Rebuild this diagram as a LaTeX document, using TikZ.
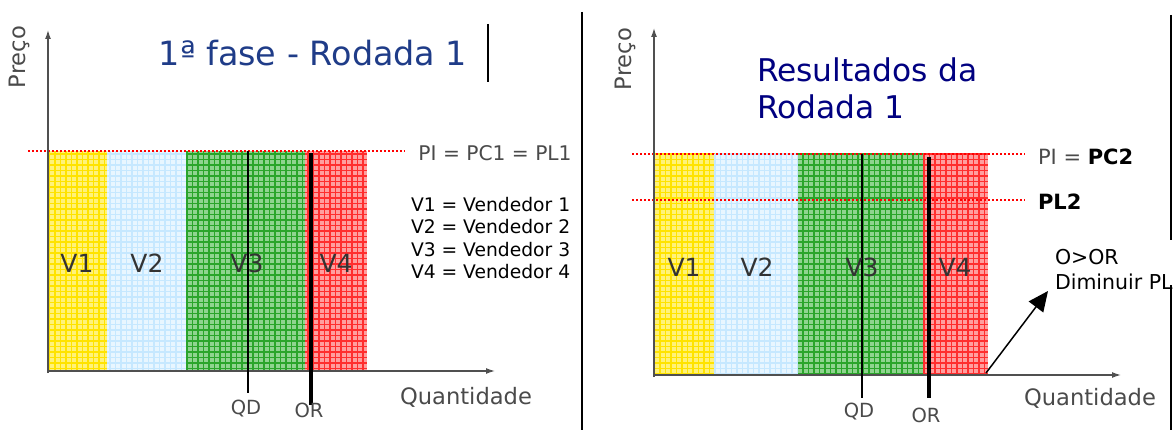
\documentclass[tikz,border=0pt]{standalone}
\usepackage{fontspec}
\setmainfont{DejaVu Sans}
\usepackage{tikz}
\usetikzlibrary{arrows.meta,positioning}
\usepackage{xcolor}
\definecolor{titleblue}{HTML}{1F3C88}
\definecolor{navy}{HTML}{000080}
\definecolor{axisgray}{HTML}{505050}
\definecolor{labgray}{HTML}{4A4A4A}
\definecolor{bargray}{HTML}{333333}
\definecolor{ylite}{HTML}{FFF27A}
\definecolor{ydark}{HTML}{FFE300}
\definecolor{blite}{HTML}{E8F6FF}
\definecolor{bdark}{HTML}{C6E8FF}
\definecolor{glite}{HTML}{8FD48F}
\definecolor{gdark}{HTML}{2AA52A}
\definecolor{rlite}{HTML}{FF9E9E}
\definecolor{rdark}{HTML}{FF2E2E}

\begin{document}
\begin{tikzpicture}[x=1pt,y=1pt,
 every node/.style={inner sep=0pt,outer sep=0pt},
 axisline/.style={-{Latex[length=9pt,width=6pt]},line width=1.3pt,draw=axisgray},
 priceline/.style={draw=red,line width=2pt,dash pattern=on 2pt off 2pt},
 qdline/.style={line width=2.4pt,draw=black},
 orline/.style={line width=4pt,draw=black},
 gridfill/.style={line width=1.6pt,step=5.5},
 rulebar/.style={line width=2.5pt,draw=black},
 glabel/.style={text=labgray,font=\fontsize{19.5}{20}\selectfont},
 axlabel/.style={text=labgray,font=\fontsize{22.6}{24}\selectfont},
 barlabel/.style={text=bargray,font=\fontsize{25}{25}\selectfont},
 legend/.style={anchor=west,font=\fontsize{18.7}{20}\selectfont},
 pointer/.style={-{Triangle[length=20pt,width=18pt]},line width=1.5pt,draw=black}
]
\useasboundingbox (0,0) rectangle (1174,-430);

% left panel: 1a fase
\foreach \xa/\xb/\lite/\dark in {48/107/ylite/ydark,107/187/blite/bdark,187/305/glite/gdark,305/367/rlite/rdark}{
  \fill[\lite] (\xa,-371) rectangle (\xb,-151);
  \draw[\dark,gridfill] (\xa,-371) grid (\xb,-151);
}
\coordinate (pl) at (28,-151); \coordinate (pr) at (405,-151);
\draw[priceline] (pl)--(pr);
\coordinate (o1) at (48,-371); \coordinate (yt1) at (48,-30); \coordinate (xt1) at (495,-371);
\draw[axisline] (48,-373)--(yt1);
\draw[axisline] (o1)--(xt1);
\coordinate (qdt1) at (248,-151); \coordinate (qdb1) at (248,-393);
\coordinate (ort1) at (311,-153); \coordinate (orb1) at (311,-405);
\draw[qdline] (qdt1)--(qdb1);
\draw[orline] (ort1)--(orb1);
\node[glabel] (qd1) at (246,-409) {QD};
\node[glabel] (or1) at (309,-410) {OR};
\node[axlabel] (qty1) at (466,-397) {Quantidade};
\node[axlabel,rotate=90] (price1) at (19,-57) {Preço};
\node[text=titleblue,font=\fontsize{33.4}{36}\selectfont] (title1) at (313,-53) {1ª fase - Rodada 1};
\coordinate (bt1) at (488,-24); \coordinate (bb1) at (488,-82);
\draw[rulebar] (bt1)--(bb1);
\node[text=labgray,font=\fontsize{20.2}{22}\selectfont] (pi1) at (495,-153) {PI = PC1 = PL1};
\node[legend] (leg1) at (411,-205) {V1 = Vendedor 1};
\node[legend] (leg2) at (411,-227) {V2 = Vendedor 2};
\node[legend] (leg3) at (411,-250) {V3 = Vendedor 3};
\node[legend] (leg4) at (411,-272) {V4 = Vendedor 4};
\node[barlabel] (v1a) at (77,-263) {V1};
\node[barlabel] (v2a) at (147,-263) {V2};
\node[barlabel] (v3a) at (247,-263) {V3};
\node[barlabel] (v4a) at (336,-263) {V4};

% separator
\coordinate (st) at (582,-12); \coordinate (sb) at (582,-430);
\draw[line width=1.5pt] (st)--(sb);

% right panel: resultados
\foreach \xa/\xb/\lite/\dark in {654/715/ylite/ydark,715/798/blite/bdark,798/923/glite/gdark,923/988/rlite/rdark}{
  \fill[\lite] (\xa,-375) rectangle (\xb,-154);
  \draw[\dark,gridfill] (\xa,-375) grid (\xb,-154);
}
\coordinate (pcl) at (632,-154); \coordinate (pcr) at (1025,-154);
\coordinate (pll) at (632,-200); \coordinate (plr) at (1025,-200);
\draw[priceline] (pcl)--(pcr);
\draw[priceline] (pll)--(plr);
\coordinate (o2) at (654,-375); \coordinate (yt2) at (654,-28); \coordinate (xt2) at (1121,-375);
\draw[axisline] (654,-377)--(yt2);
\draw[axisline] (o2)--(xt2);
\coordinate (qdt2) at (862,-154); \coordinate (qdb2) at (862,-398);
\coordinate (ort2) at (929,-157); \coordinate (orb2) at (929,-398);
\draw[qdline] (qdt2)--(qdb2);
\draw[orline] (ort2)--(orb2);
\node[glabel] (qd2) at (859,-412) {QD};
\node[glabel] (or2) at (926,-415) {OR};
\node[axlabel] (qty2) at (1090,-398) {Quantidade};
\node[axlabel,rotate=90] (price2) at (625,-59) {Preço};
\node[anchor=west,text=navy,font=\fontsize{31.3}{36}\selectfont] (title2a) at (757,-70) {Resultados da};
\node[anchor=west,text=navy,font=\fontsize{31.3}{36}\selectfont] (title2b) at (757,-107) {Rodada 1};
\node[anchor=west,font=\fontsize{21}{22}\selectfont] (pi2) at (1038,-157) {\textcolor{labgray}{PI =} \textbf{PC2}};
\node[anchor=west,font=\fontsize{21}{22}\selectfont\bfseries] (pl2) at (1038,-202) {PL2};
\node[barlabel] (v1b) at (684,-267) {V1};
\node[barlabel] (v2b) at (757,-267) {V2};
\node[barlabel] (v3b) at (862,-267) {V3};
\node[barlabel] (v4b) at (955,-267) {V4};
\node[anchor=west,font=\fontsize{20.5}{22}\selectfont] (oor) at (1055,-257) {O>OR};
\node[anchor=west,font=\fontsize{20.5}{22}\selectfont] (dim) at (1055,-282) {Diminuir PL};
\coordinate (from) at (986,-373); \coordinate (to) at (1048,-291);
\draw[pointer] (from)--(to);
\coordinate (rt) at (1171,-15); \coordinate (rm1) at (1171,-240);
\coordinate (rm2) at (1171,-285); \coordinate (rb) at (1171,-430);
\draw[rulebar] (rt)--(rm1);
\draw[rulebar] (rm2)--(rb);
\end{tikzpicture}
\end{document}
